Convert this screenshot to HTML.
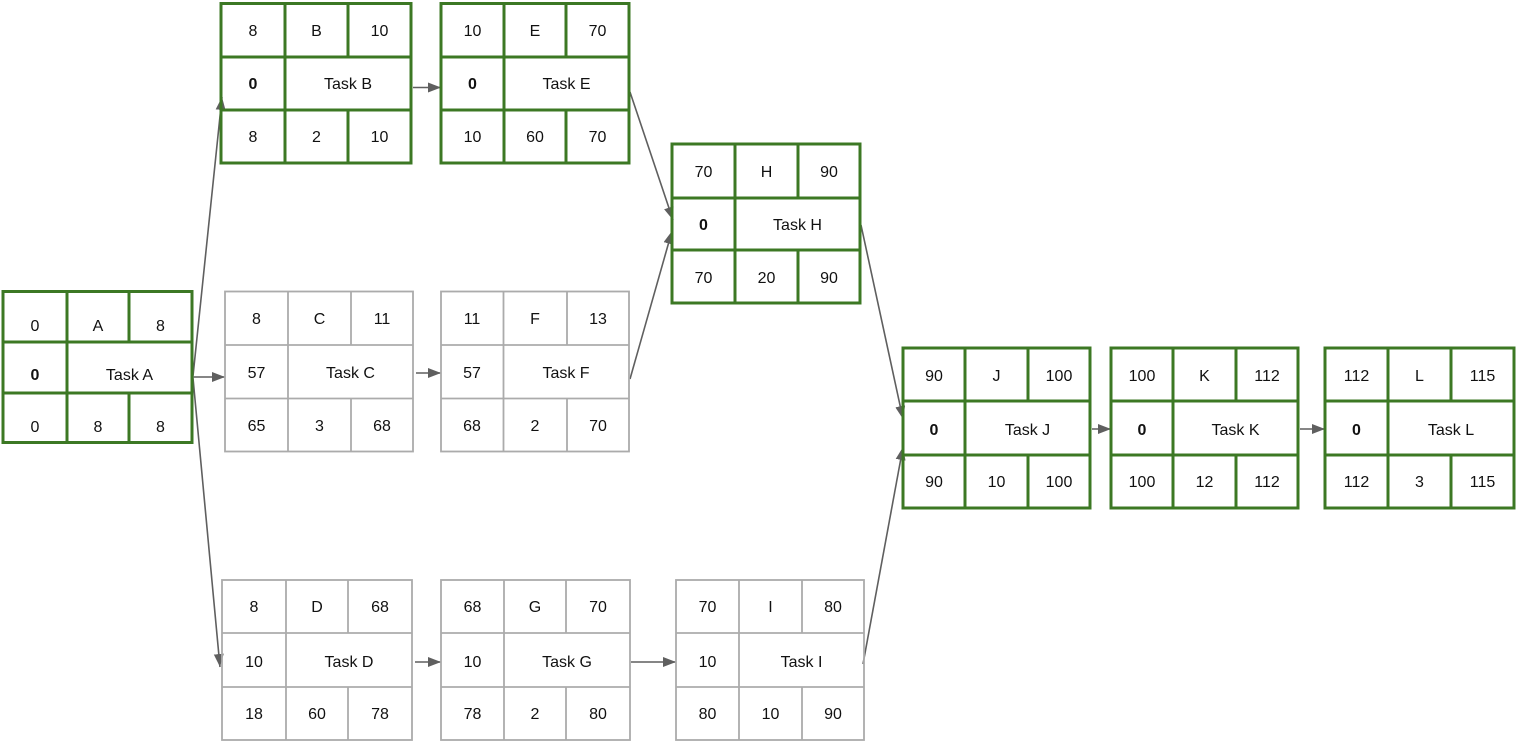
<!DOCTYPE html>
<html>
<head>
<meta charset="utf-8">
<style>
  html, body { margin:0; padding:0; background:#ffffff; }
  body { width:1518px; height:743px; overflow:hidden; }
  svg { display:block; }
  text { font-family: "Liberation Sans", Arial, Helvetica, sans-serif; font-size:16px; fill:#111; text-anchor:middle; }
  .b { font-weight:bold; }
  .g rect, .g line { stroke:#3c7824; stroke-width:3; fill:none; }
  .y rect, .y line { stroke:#ababab; stroke-width:1.8; fill:none; }
  .c { stroke:#5f5f5f; stroke-width:1.6; fill:none; marker-end:url(#ah); }
</style>
</head>
<body>
<svg width="1518" height="743" viewBox="0 0 1518 743" xmlns="http://www.w3.org/2000/svg">
<defs>
  <marker id="ah" markerUnits="userSpaceOnUse" markerWidth="14" markerHeight="12" refX="13" refY="5" orient="auto" viewBox="0 0 14 12">
    <path d="M0,0 L13,5 L0,10 Z" fill="#5f5f5f"/>
  </marker>
</defs>

<!-- Connectors -->
<line class="c" x1="193" y1="376" x2="222" y2="97"/>
<line class="c" x1="193" y1="377" x2="225" y2="377"/>
<line class="c" x1="193" y1="378" x2="220" y2="667"/>
<line class="c" x1="413" y1="87.5" x2="441" y2="87.5"/>
<line class="c" x1="416" y1="373" x2="441" y2="373"/>
<line class="c" x1="630" y1="92" x2="673" y2="220"/>
<line class="c" x1="630" y1="379" x2="672" y2="231"/>
<line class="c" x1="415" y1="662" x2="441" y2="662"/>
<line class="c" x1="631" y1="662" x2="676" y2="662"/>
<line class="c" x1="861" y1="225" x2="903" y2="419"/>
<line class="c" x1="863" y1="664" x2="903" y2="447"/>
<line class="c" x1="1092" y1="429" x2="1111" y2="429"/>
<line class="c" x1="1300" y1="429" x2="1325" y2="429"/>

<!-- Box A -->
<g class="g">
  <rect x="3" y="291.5" width="189" height="151"/>
  <line x1="3" y1="342" x2="192" y2="342"/><line x1="3" y1="393" x2="192" y2="393"/>
  <line x1="67" y1="291.5" x2="67" y2="342"/><line x1="129" y1="291.5" x2="129" y2="342"/>
  <line x1="67" y1="342" x2="67" y2="393"/>
  <line x1="67" y1="393" x2="67" y2="442.5"/><line x1="129" y1="393" x2="129" y2="442.5"/>
</g>
<text x="35" y="331">0</text><text x="98" y="331">A</text><text x="160.5" y="331">8</text>
<text x="35" y="380" class="b">0</text><text x="129.5" y="380">Task A</text>
<text x="35" y="432">0</text><text x="98" y="432">8</text><text x="160.5" y="432">8</text>

<!-- Box B -->
<g class="g">
  <rect x="221" y="3.5" width="190" height="159.5"/>
  <line x1="221" y1="57" x2="411" y2="57"/><line x1="221" y1="110" x2="411" y2="110"/>
  <line x1="285" y1="3.5" x2="285" y2="163"/><line x1="348" y1="3.5" x2="348" y2="57"/>
  <line x1="348" y1="110" x2="348" y2="163"/>
</g>
<text x="253" y="36">8</text><text x="316.5" y="36">B</text><text x="379.5" y="36">10</text>
<text x="253" y="89" class="b">0</text><text x="348" y="89">Task B</text>
<text x="253" y="142">8</text><text x="316.5" y="142">2</text><text x="379.5" y="142">10</text>

<!-- Box E -->
<g class="g">
  <rect x="441" y="3.5" width="188" height="159.5"/>
  <line x1="441" y1="57" x2="629" y2="57"/><line x1="441" y1="110" x2="629" y2="110"/>
  <line x1="504" y1="3.5" x2="504" y2="163"/><line x1="566" y1="3.5" x2="566" y2="57"/>
  <line x1="566" y1="110" x2="566" y2="163"/>
</g>
<text x="472.5" y="36">10</text><text x="535" y="36">E</text><text x="597.5" y="36">70</text>
<text x="472.5" y="89" class="b">0</text><text x="566.5" y="89">Task E</text>
<text x="472.5" y="142">10</text><text x="535" y="142">60</text><text x="597.5" y="142">70</text>

<!-- Box H -->
<g class="g">
  <rect x="672" y="144" width="188" height="159"/>
  <line x1="672" y1="198" x2="860" y2="198"/><line x1="672" y1="250" x2="860" y2="250"/>
  <line x1="735" y1="144" x2="735" y2="303"/><line x1="798" y1="144" x2="798" y2="198"/>
  <line x1="798" y1="250" x2="798" y2="303"/>
</g>
<text x="703.5" y="177">70</text><text x="766.5" y="177">H</text><text x="829" y="177">90</text>
<text x="703.5" y="230" class="b">0</text><text x="797.5" y="230">Task H</text>
<text x="703.5" y="283">70</text><text x="766.5" y="283">20</text><text x="829" y="283">90</text>

<!-- Box C -->
<g class="y">
  <rect x="225" y="291.5" width="188" height="160"/>
  <line x1="225" y1="345" x2="413" y2="345"/><line x1="225" y1="398.5" x2="413" y2="398.5"/>
  <line x1="288" y1="291.5" x2="288" y2="451.5"/><line x1="351" y1="291.5" x2="351" y2="345"/>
  <line x1="351" y1="398.5" x2="351" y2="451.5"/>
</g>
<text x="256.5" y="324">8</text><text x="319.5" y="324">C</text><text x="382" y="324">11</text>
<text x="256.5" y="378">57</text><text x="350.5" y="378">Task C</text>
<text x="256.5" y="431">65</text><text x="319.5" y="431">3</text><text x="382" y="431">68</text>

<!-- Box F -->
<g class="y">
  <rect x="441" y="291.5" width="188" height="160"/>
  <line x1="441" y1="345" x2="629" y2="345"/><line x1="441" y1="398.5" x2="629" y2="398.5"/>
  <line x1="503.5" y1="291.5" x2="503.5" y2="451.5"/><line x1="567" y1="291.5" x2="567" y2="345"/>
  <line x1="567" y1="398.5" x2="567" y2="451.5"/>
</g>
<text x="472" y="324">11</text><text x="535" y="324">F</text><text x="598" y="324">13</text>
<text x="472" y="378">57</text><text x="566" y="378">Task F</text>
<text x="472" y="431">68</text><text x="535" y="431">2</text><text x="598" y="431">70</text>

<!-- Box D -->
<g class="y">
  <rect x="222" y="580" width="190" height="160"/>
  <line x1="222" y1="633" x2="412" y2="633"/><line x1="222" y1="687" x2="412" y2="687"/>
  <line x1="286" y1="580" x2="286" y2="740"/><line x1="348" y1="580" x2="348" y2="633"/>
  <line x1="348" y1="687" x2="348" y2="740"/>
</g>
<text x="254" y="612">8</text><text x="317" y="612">D</text><text x="380" y="612">68</text>
<text x="254" y="667">10</text><text x="349" y="667">Task D</text>
<text x="254" y="719">18</text><text x="317" y="719">60</text><text x="380" y="719">78</text>

<!-- Box G -->
<g class="y">
  <rect x="441" y="580" width="189" height="160"/>
  <line x1="441" y1="633" x2="630" y2="633"/><line x1="441" y1="687" x2="630" y2="687"/>
  <line x1="504" y1="580" x2="504" y2="740"/><line x1="566" y1="580" x2="566" y2="633"/>
  <line x1="566" y1="687" x2="566" y2="740"/>
</g>
<text x="472.5" y="612">68</text><text x="535" y="612">G</text><text x="598" y="612">70</text>
<text x="472.5" y="667">10</text><text x="567" y="667">Task G</text>
<text x="472.5" y="719">78</text><text x="535" y="719">2</text><text x="598" y="719">80</text>

<!-- Box I -->
<g class="y">
  <rect x="676" y="580" width="188" height="160"/>
  <line x1="676" y1="633" x2="864" y2="633"/><line x1="676" y1="687" x2="864" y2="687"/>
  <line x1="739" y1="580" x2="739" y2="740"/><line x1="802" y1="580" x2="802" y2="633"/>
  <line x1="802" y1="687" x2="802" y2="740"/>
</g>
<text x="707.5" y="612">70</text><text x="770.5" y="612">I</text><text x="833" y="612">80</text>
<text x="707.5" y="667">10</text><text x="801.5" y="667">Task I</text>
<text x="707.5" y="719">80</text><text x="770.5" y="719">10</text><text x="833" y="719">90</text>

<!-- Box J -->
<g class="g">
  <rect x="903" y="348" width="187" height="160"/>
  <line x1="903" y1="401" x2="1090" y2="401"/><line x1="903" y1="455" x2="1090" y2="455"/>
  <line x1="965" y1="348" x2="965" y2="508"/><line x1="1028" y1="348" x2="1028" y2="401"/>
  <line x1="1028" y1="455" x2="1028" y2="508"/>
</g>
<text x="934" y="381">90</text><text x="996.5" y="381">J</text><text x="1059" y="381">100</text>
<text x="934" y="435" class="b">0</text><text x="1027.5" y="435">Task J</text>
<text x="934" y="487">90</text><text x="996.5" y="487">10</text><text x="1059" y="487">100</text>

<!-- Box K -->
<g class="g">
  <rect x="1111" y="348" width="187" height="160"/>
  <line x1="1111" y1="401" x2="1298" y2="401"/><line x1="1111" y1="455" x2="1298" y2="455"/>
  <line x1="1173" y1="348" x2="1173" y2="508"/><line x1="1236" y1="348" x2="1236" y2="401"/>
  <line x1="1236" y1="455" x2="1236" y2="508"/>
</g>
<text x="1142" y="381">100</text><text x="1204.5" y="381">K</text><text x="1267" y="381">112</text>
<text x="1142" y="435" class="b">0</text><text x="1235.5" y="435">Task K</text>
<text x="1142" y="487">100</text><text x="1204.5" y="487">12</text><text x="1267" y="487">112</text>

<!-- Box L -->
<g class="g">
  <rect x="1325" y="348" width="189" height="160"/>
  <line x1="1325" y1="401" x2="1514" y2="401"/><line x1="1325" y1="455" x2="1514" y2="455"/>
  <line x1="1388" y1="348" x2="1388" y2="508"/><line x1="1451" y1="348" x2="1451" y2="401"/>
  <line x1="1451" y1="455" x2="1451" y2="508"/>
</g>
<text x="1356.5" y="381">112</text><text x="1419.5" y="381">L</text><text x="1482.5" y="381">115</text>
<text x="1356.5" y="435" class="b">0</text><text x="1451" y="435">Task L</text>
<text x="1356.5" y="487">112</text><text x="1419.5" y="487">3</text><text x="1482.5" y="487">115</text>

</svg>
</body>
</html>
